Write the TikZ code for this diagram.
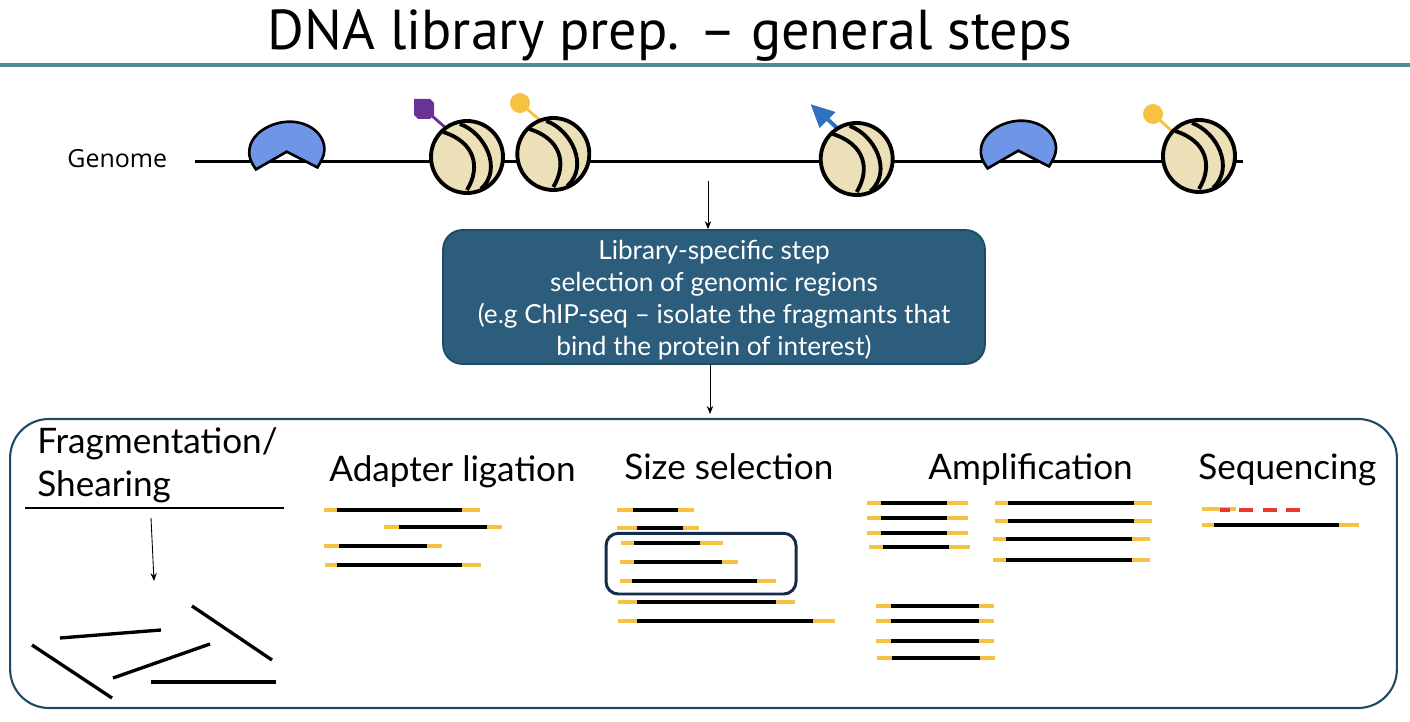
\documentclass[tikz,border=0pt]{standalone}
\usepackage{fontspec}
\setmainfont{Lato}
\newfontfamily\genomefont{Open Sans}
\newfontfamily\titlefont{PT Sans}
\usetikzlibrary{arrows.meta}

\definecolor{nucfill}{HTML}{EBE0B8}
\definecolor{pacblue}{HTML}{6F95E6}
\definecolor{tailpurple}{HTML}{6A3296}
\definecolor{tailyellow}{HTML}{F5C242}
\definecolor{tailblue}{HTML}{2F70C0}
\definecolor{boxblue}{HTML}{2C5D7C}
\definecolor{boxedge}{HTML}{1F4A63}
\definecolor{rulecol}{HTML}{4F8C9A}
\definecolor{navy}{HTML}{152C4A}
\definecolor{readred}{HTML}{EA3A30}

\tikzset{
  dnaline/.style={line width=2.1pt,black},
  adapter/.style={line width=2.1pt,tailyellow},
  stageword/.style={font=\fontsize{20}{24}\selectfont,anchor=base west,inner sep=0pt},
  tick/.style={-{Stealth[length=4.5pt,width=3.6pt]},line width=0.5pt},
  shear/.style={line width=1.9pt,black},
  pics/nucleosome/.style={code={
    \draw[line width=2.2pt,fill=nucfill] (0,0) circle (36);
    \draw[line width=2.2pt] (-24,-25) .. controls (8,-15) and (14,10) .. (0,33);
    \draw[line width=2.2pt] (-7,-33) .. controls (18,-24) and (36,12) .. (14,32);
  }},
  pics/pacshape/.style={code={
    \draw[line width=1.5pt,fill=pacblue,line join=miter]
      (-30.7,17.7) .. controls (-36,10) and (-38,6) .. (-37.3,-1.7)
      .. controls (-36,-18) and (-16,-30) .. (3,-30)
      .. controls (22,-30) and (38,-18) .. (37.7,-1.7)
      .. controls (37.5,5) and (34,10) .. (30.7,15.7)
      -- (0,0) -- cycle;
  }},
}

\begin{document}
\begin{tikzpicture}[x=0.02cm,y=-0.02cm]
  \useasboundingbox (0,0) rectangle (1410,722);

  % title
  \node[font=\titlefont\fontsize{32}{40}\selectfont,anchor=base,inner sep=0pt] (title) at (670,50) {DNA library prep. – general steps};
  \draw[rulecol,line width=1.8pt] (0,65) -- (1410,65);

  % genome
  \node[font=\genomefont\fontsize{14.2}{15}\selectfont,anchor=base west,inner sep=0pt] (genome) at (67,168) {Genome};
  \coordinate (lineL) at (195,161.5);
  \coordinate (lineR) at (1243,161.5);
  \draw[line width=1.6pt] (lineL) -- (lineR);

  % histone tails
  \draw[tailpurple,line width=1.6pt] (447,129) -- (431,115);
  \fill[tailpurple] (414,99) -- (430,99) -- (434,103) -- (434,115) -- (430,119) -- (418,119) -- (414,115) -- cycle;
  \draw[tailyellow,line width=1.6pt] (542,122) -- (520,103);
  \fill[tailyellow] (520,103) circle (10);
  \draw[tailblue,line width=2.2pt] (837,128) -- (822,114);
  \fill[tailblue] (810.7,104.3) -- (835.5,112) -- (819.5,128) -- cycle;
  \draw[tailyellow,line width=1.6pt] (1173,132) -- (1153,114);
  \fill[tailyellow] (1153,114) circle (10);

  \pic at (286.7,151.7) {pacshape};
  \pic at (1018.3,150.7) {pacshape};
  \pic at (467,157) {nucleosome};
  \pic at (553.3,154) {nucleosome};
  \pic at (856.7,159) {nucleosome};
  \pic at (1199,156) {nucleosome};

  % library step box
  \node[draw=boxedge,fill=boxblue,line width=1pt,rounded corners=11pt,minimum width=10.84cm,minimum height=2.68cm,inner sep=0pt] (libbox) at (714,297) {};
  \node[align=center,text=white,font=\fontsize{14.9}{18.2}\selectfont,inner sep=0pt] (libtext) at (714,300)
        {Library-specific step\\selection of genomic regions\\(e.g ChIP-seq – isolate the fragmants that\\bind the protein of interest)};
  \coordinate (arrowA) at (708,181);
  \coordinate (arrowB) at (710,414);
  \draw[tick] (arrowA) -- (arrowA |- libbox.north);
  \draw[tick] (arrowB |- libbox.south) -- (arrowB);

  % panel of stages
  \node[draw=boxedge,line width=1.2pt,rounded corners=22pt,minimum width=27.74cm,minimum height=5.78cm,inner sep=0pt] (panel) at (703.5,563.5) {};

  \node[stageword] (fragA) at (37,454) {Fragmentation/};
  \node[stageword] (fragB) at (37,497) {Shearing};
  \node[stageword] (adapter) at (329,482) {Adapter ligation};
  \node[stageword] (size) at (624,480) {Size selection};
  \node[stageword] (amp) at (928,480) {Amplification};
  \node[stageword] (seq) at (1198,480) {Sequencing};

  % fragmentation
  \draw[line width=1.6pt] (25,508) -- (284,508);
  \coordinate (shearA) at (151,518);
  \coordinate (shearB) at (154,581);
  \draw[tick] (shearA) -- (shearB);
  \draw[shear] (60,638) -- (161,630);
  \draw[shear] (192,606) -- (272,660);
  \draw[shear] (32,645) -- (112,698);
  \draw[shear] (113,678) -- (210,644);
  \draw[shear] (151,682) -- (276,682);

  % fragments with adapters
  \foreach \y/\a/\b/\c/\d in {
    509.7/324/336.7/462/480, 527/384/399/487/501.7, 546/324/339/427/442, 565.3/325/336.7/462/481,
    509.7/617/633/678/694.3, 527.7/617/637.3/682.7/699, 542.7/621/634/700.3/722.7, 562/620/634/722/737.7,
    581.3/620/631.7/757/776, 601.7/618/637.3/776/795, 621/618/637.3/812.7/835,
    503.3/866.7/880.7/947/968.3, 518.3/866.7/880.7/947/968.3, 533/866.7/880.7/947/968.3, 547/869/883/949.3/970.3,
    503.3/995.3/1008.3/1133.7/1151.7, 521.3/995.3/1008.3/1133.7/1151.7, 538.7/993.3/1006/1131.7/1149.7, 560/993.3/1006/1131.7/1149.7,
    606/876.3/891.3/979.3/994, 621/876.3/891.3/979.3/994, 640.7/876.3/891.3/979.3/994, 657.7/877.3/892.3/980.3/995,
    524.7/1202.3/1214.3/1339.3/1358.7} {
    \draw[adapter] (\a,\y) -- (\b,\y);
    \draw[adapter] (\c,\y) -- (\d,\y);
    \draw[dnaline] (\b,\y) -- (\c,\y);
  }

  % selected sizes
  \draw[navy,line width=1.7pt,rounded corners=7pt] (606,533.3) rectangle (796,594);

  % sequencing read
  \draw[adapter] (1202.3,508.7) -- (1236,508.7);
  \foreach \a/\b in {1220.3/1230,1239.3/1252.7,1263.3/1276.7,1286.3/1300}
    \draw[readred,line width=2.1pt] (\a,509.7) -- (\b,509.7);
\end{tikzpicture}
\end{document}
